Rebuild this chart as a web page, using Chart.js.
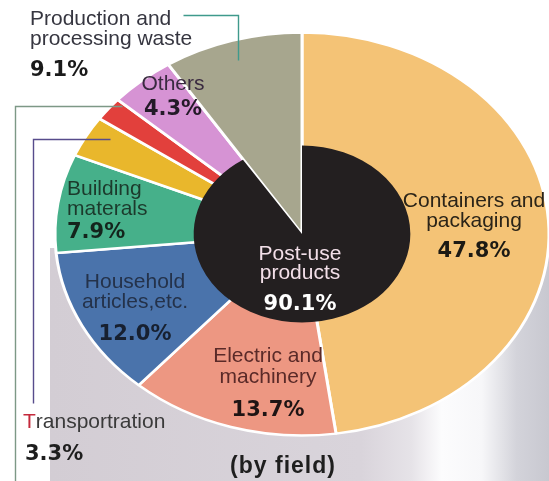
<!DOCTYPE html>
<html>
<head>
<meta charset="utf-8">
<script src="https://cdn.jsdelivr.net/npm/chart.js@4/dist/chart.umd.min.js"></script>
<style>
  html, body { margin: 0; padding: 0; background: #ffffff; }
  #wrap { position: relative; width: 549px; height: 481px; overflow: hidden; }
  #wrap canvas { position: absolute; left: 0; top: -20px; }
</style>
</head>
<body>
<div id="wrap">
  <canvas id="fieldPie" width="560" height="560"></canvas>
  <canvas id="sourcePie" width="560" height="560"></canvas>
</div>
<script>
// Plastic waste by field (outer pie, %)
const categories = [
  ['Containers and', 'packaging'],
  ['Electric and', 'machinery'],
  ['Household', 'articles,etc.'],
  ['Building', 'materals'],
  ['Transportration'],
  [''],
  ['Others'],
  ['Production and', 'processing waste']
];
const shares = [47.8, 13.7, 12.0, 7.9, 3.3, 1.9, 4.3, 9.1];

// Split by source (dark centre vs. production wedge, %)
const sourceGroups = [['Post-use', 'products'], ['Production and', 'processing waste']];
const sourceShares = [90.1, 9.1];

const sliceColors = ['#f4c376', '#ed9782', '#4a73ab', '#46b08a', '#e9b72c', '#e2403c', '#d693d4', '#a7a68e'];
const sourceColors = ['#231f20', 'rgba(0,0,0,0)'];

const TILT = 0.816;          // vertical squash of the disc
const PAGE_SHIFT = 20;       // canvases sit 20px above the page top

// Label placement (page coordinates)
const sliceLabelSpots = [
  { x: 474, lines: [207, 227], pct: 257, align: 'center', ink: '#2b2418', bold: '#1c1a14' },
  { x: 268, lines: [362, 383], pct: 416, align: 'center', ink: '#5a2a28', bold: '#1e1414' },
  { x: 135, lines: [288, 308], pct: 340, align: 'center', ink: '#24324a', bold: '#172030' },
  { x: 67,  lines: [195, 215], pct: 238, align: 'left',   ink: '#1c3a2c', bold: '#14241c' },
  { x: 23,  lines: [428],      pct: 460, px: 25, align: 'left', ink: '#3a3a3a', bold: '#1e1e1e', initialInk: '#c42a3c' },
  null,
  { x: 173, lines: [90],       pct: 115, align: 'center', ink: '#3a2a40', bold: '#241a28' },
  { x: 30,  lines: [25, 45],   pct: 76,  align: 'left',   ink: '#363640', bold: '#1a1a1a' }
];
const centreLabelSpot = { x: 300, lines: [260, 279], pct: 310, ink: '#f2dfe8', bold: '#ffffff' };
const footnote = { text: '(by field)', x: 283, y: 473 };

const leaders = [
  { color: '#3f9a8c', pts: [[183, 15], [238, 15], [238, 60]] },
  { color: '#7d9886', pts: [[122, 106], [15, 106], [15, 481]] },
  { color: '#574c8c', pts: [[110, 139], [33, 139], [33, 403]] }
];

const LABEL_FONT = '21px "Liberation Sans", Arial, sans-serif';
const PCT_FONT = 'bold 21px "DejaVu Sans", sans-serif';
const fmt = v => v.toFixed(1) + '%';

// Squash the disc vertically around its centre
const tiltPlugin = {
  id: 'tilt',
  beforeDatasetsDraw(chart) {
    const arc = chart.getDatasetMeta(0).data[0];
    const ctx = chart.ctx;
    ctx.save();
    ctx.translate(0, arc.y);
    ctx.scale(1, TILT);
    ctx.translate(0, -arc.y);
  },
  afterDatasetsDraw(chart) {
    chart.ctx.restore();
  }
};

// Grey cylinder side under the disc, with a highlight on the right
const cylinderPlugin = {
  id: 'cylinder',
  beforeDraw(chart) {
    const arc = chart.getDatasetMeta(0).data[0];
    const { x, y, outerRadius: R } = arc;
    const ctx = chart.ctx;
    const left = x - R - 5, right = x + R + 3;
    const top = y + 14;
    const g = ctx.createLinearGradient(left, 0, right, 0);
    g.addColorStop(0.00, '#d3cdd4');
    g.addColorStop(0.62, '#d9d4db');
    g.addColorStop(0.72, '#e6e3e8');
    g.addColorStop(0.78, '#fcfcfd');
    g.addColorStop(0.86, '#f7f7f9');
    g.addColorStop(0.93, '#d3d3da');
    g.addColorStop(1.00, '#c7c7cf');
    ctx.save();
    ctx.fillStyle = g;
    ctx.fillRect(left, top, right - left, chart.height - top);
    ctx.restore();
  }
};

function drawLines(ctx, lines, x, ys, align, ink, initialInk) {
  ctx.font = LABEL_FONT;
  ctx.textAlign = align;
  ctx.textBaseline = 'alphabetic';
  lines.forEach((t, i) => {
    const y = ys[i] + PAGE_SHIFT;
    if (initialInk && i === 0 && align === 'left') {
      ctx.fillStyle = initialInk;
      ctx.fillText(t[0], x, y);
      const w = ctx.measureText(t[0]).width;
      ctx.fillStyle = ink;
      ctx.fillText(t.slice(1), x + w, y);
    } else {
      ctx.fillStyle = ink;
      ctx.fillText(t, x, y);
    }
  });
}

const labelPlugin = {
  id: 'labels',
  afterDraw(chart) {
    const ctx = chart.ctx;
    ctx.save();
    // leader lines
    leaders.forEach(l => {
      ctx.beginPath();
      ctx.strokeStyle = l.color;
      ctx.lineWidth = 1.4;
      l.pts.forEach((p, i) => {
        const px = p[0] + 0.5, py = p[1] + PAGE_SHIFT + 0.5;
        i ? ctx.lineTo(px, py) : ctx.moveTo(px, py);
      });
      ctx.stroke();
    });
    // slice labels
    sliceLabelSpots.forEach((s, i) => {
      if (!s) return;
      drawLines(ctx, categories[i], s.x, s.lines, s.align, s.ink, s.initialInk);
      ctx.font = PCT_FONT;
      ctx.textAlign = s.align;
      ctx.fillStyle = s.bold;
      ctx.fillText(fmt(shares[i]), s.px !== undefined ? s.px : s.x, s.pct + PAGE_SHIFT);
    });
    // centre label
    const c = centreLabelSpot;
    drawLines(ctx, sourceGroups[0], c.x, c.lines, 'center', c.ink);
    ctx.font = PCT_FONT;
    ctx.textAlign = 'center';
    ctx.fillStyle = c.bold;
    ctx.fillText(fmt(sourceShares[0]), c.x, c.pct + PAGE_SHIFT);
    // footnote
    ctx.font = 'bold 23px "Liberation Sans", Arial, sans-serif';
    if ('letterSpacing' in ctx) ctx.letterSpacing = '1px';
    ctx.fillStyle = '#1e1e1e';
    ctx.fillText(footnote.text, footnote.x, footnote.y + PAGE_SHIFT);
    ctx.restore();
  }
};

const sharedOptions = {
  responsive: false,
  animation: false,
  events: [],
  layout: { padding: { left: 53.5, right: 9.5, top: 5.5, bottom: 57.5 } },
  plugins: { legend: { display: false }, tooltip: { enabled: false } }
};

new Chart(document.getElementById('fieldPie'), {
  type: 'pie',
  data: {
    labels: categories,
    datasets: [{
      data: shares,
      backgroundColor: sliceColors,
      borderColor: '#ffffff',
      borderWidth: 3,
      hoverOffset: 0
    }]
  },
  options: sharedOptions,
  plugins: [cylinderPlugin, tiltPlugin]
});

new Chart(document.getElementById('sourcePie'), {
  type: 'pie',
  data: {
    labels: sourceGroups,
    datasets: [{
      data: sourceShares,
      backgroundColor: sourceColors,
      borderWidth: 0,
      hoverOffset: 0
    }]
  },
  options: Object.assign({}, sharedOptions, { radius: '43.6%' }),
  plugins: [tiltPlugin, labelPlugin]
});
</script>
</body>
</html>
